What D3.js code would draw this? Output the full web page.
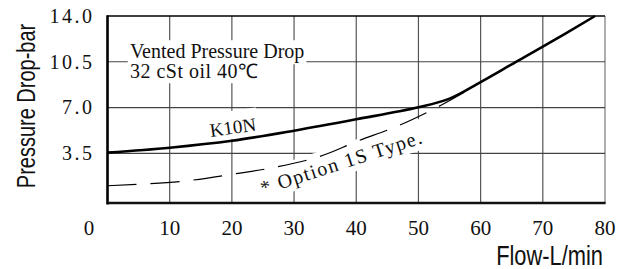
<!DOCTYPE html>
<html>
  <head>
    <script src="https://cdn.jsdelivr.net/npm/d3@7"></script>
<style>
  body { margin: 0; background: #fff; }
  .serif { font-family: "Liberation Serif", "Times New Roman", serif; fill: #111; }
  .title { font-family: "Liberation Sans", Arial, sans-serif; fill: #111; }
</style>
  </head>
  <body>
    <div id="vis"></div>
    <script type="text/javascript">

      const w = 627;
      const h = 269;

      // flow L/min, pressure drop bar
      const k10nFlow = [0, 10, 20, 30, 40, 50, 55, 60, 65, 70, 78.4];
      const k10nBar  = [3.55, 3.93, 4.46, 5.23, 6.1, 7.02, 7.68, 8.95, 10.3, 11.65, 14.0];
      const optFlow  = [0, 12, 21, 26, 34, 40, 47, 53.7, 57.5];
      const optBar   = [1.02, 1.36, 1.97, 2.35, 3.24, 4.39, 5.66, 7.19, 8.2];

      const xTicks = [0, 10, 20, 30, 40, 50, 60, 70, 80];
      const yTicks = [3.5, 7.0, 10.5, 14.0];

      const svg = d3.select("#vis")
          .append("svg")
          .attr("width", w)
          .attr("height", h);

      const xScale = d3.scaleLinear().domain([0, 80]).range([107.5, 605]);
      const yScale = d3.scaleLinear().domain([-0.3, 14]).range([203, 16]);

      // grid
      const grid = svg.append("g");
      grid.selectAll("line.v")
          .data(xTicks.slice(1))
          .join("line")
          .attr("class", "v")
          .attr("x1", d => xScale(d)).attr("x2", d => xScale(d))
          .attr("y1", yScale(14)).attr("y2", yScale(-0.3))
          .attr("stroke", d => d == 80 ? "#777" : "#555")
          .attr("stroke-width", 1.2);
      grid.selectAll("line.h")
          .data(yTicks)
          .join("line")
          .attr("class", "h")
          .attr("x1", xScale(0)).attr("x2", xScale(80))
          .attr("y1", d => yScale(d)).attr("y2", d => yScale(d))
          .attr("stroke", d => d == 14 ? "#000" : "#444")
          .attr("stroke-width", d => d == 14 ? 1.5 : 1.2);

      // labels inside the plot, each on a white box
      const notes = svg.append("g");
      function note(text, fx, fy, angle, size, spacing, padTop) {
        const g = notes.append("g")
            .attr("transform", `translate(${xScale(fx)},${yScale(fy)}) rotate(${angle})`);
        const t = g.append("text")
            .attr("class", "serif")
            .attr("font-size", size)
            .attr("letter-spacing", spacing)
            .text(text);
        const b = t.node().getBBox();
        g.insert("rect", "text")
            .attr("x", b.x - 2).attr("y", b.y - padTop)
            .attr("width", b.width + 4).attr("height", b.height + padTop + 1)
            .attr("fill", "#fff");
      }
      note("Vented Pressure Drop", 3.6, 10.77, 0, 20, 0, 0);
      note("32 cSt oil 40℃", 3.6, 9.24, 0, 20, 0.5, 0);
      note("K10N", 16.6, 4.75, -8, 19, 0, 6);
      note("* Option 1S Type.", 25.0, 0.31, -18, 20, 1.4, 6);

      // curves
      const line = d3.line()
          .x(d => xScale(d[0]))
          .y(d => yScale(d[1]))
          .curve(d3.curveCatmullRom);

      svg.append("path")
          .datum(d3.zip(optFlow, optBar))
          .attr("fill", "none")
          .attr("stroke", "#000")
          .attr("stroke-width", 1.2)
          .attr("stroke-dasharray", "29,14")
          .attr("d", line);

      svg.append("path")
          .datum(d3.zip(k10nFlow, k10nBar))
          .attr("fill", "none")
          .attr("stroke", "#000")
          .attr("stroke-width", 2.6)
          .attr("d", line);

      // frame axes
      svg.append("line")
          .attr("x1", xScale(0)).attr("x2", xScale(0))
          .attr("y1", yScale(14) - 0.75).attr("y2", yScale(-0.3) + 1.5)
          .attr("stroke", "#000").attr("stroke-width", 2.6);
      svg.append("line")
          .attr("x1", xScale(0)).attr("x2", xScale(80) + 0.6)
          .attr("y1", yScale(-0.3)).attr("y2", yScale(-0.3))
          .attr("stroke", "#111").attr("stroke-width", 2.4);

      // tick labels
      svg.append("g").selectAll("text")
          .data(yTicks)
          .join("text")
          .attr("class", "serif")
          .attr("font-size", 20)
          .attr("letter-spacing", 2.5)
          .attr("text-anchor", "end")
          .attr("x", xScale(0) - 13)
          .attr("y", d => yScale(d))
          .attr("dy", "0.34em")
          .text(d => d3.format(".1f")(d));

      svg.append("g").selectAll("text")
          .data(xTicks)
          .join("text")
          .attr("class", "serif")
          .attr("font-size", 21)
          .attr("text-anchor", "middle")
          .attr("x", d => xScale(d) + (d == 0 ? -18.5 : 0))
          .attr("y", yScale(-0.3) + 32)
          .text(d => d);

      // axis titles (narrow sans, squeezed horizontally)
      svg.append("text")
          .attr("class", "title")
          .attr("font-size", 27)
          .attr("text-anchor", "end")
          .attr("transform", "translate(603,265) scale(0.81,1)")
          .text("Flow-L/min");

      svg.append("text")
          .attr("class", "title")
          .attr("font-size", 25)
          .attr("text-anchor", "middle")
          .attr("transform", "translate(35,106) rotate(-90) scale(0.8,1)")
          .text("Pressure Drop-bar");

    </script>
  </body>
</html>
